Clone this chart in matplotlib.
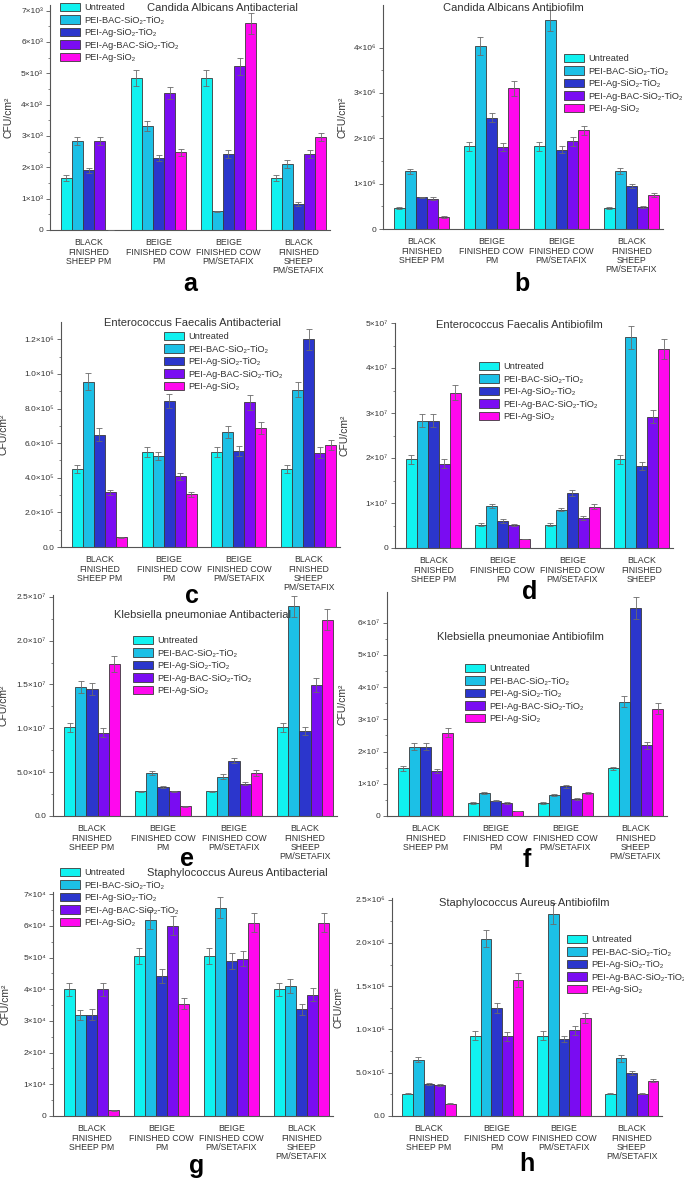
import matplotlib
matplotlib.use("Agg")
import matplotlib.pyplot as plt
import numpy as np

plt.rcParams['font.family'] = ['Liberation Sans', 'DejaVu Sans']

# ---------------- data ----------------
series = ['Untreated', 'PEI-BAC-SiO₂-TiO₂', 'PEI-Ag-SiO₂-TiO₂',
          'PEI-Ag-BAC-SiO₂-TiO₂', 'PEI-Ag-SiO₂']
colors = ['#10F2F0', '#1CC0E6', '#2B36CC', '#7A0CF2', '#FF08EE']

cats = ['BLACK\nFINISHED\nSHEEP PM', 'BEIGE\nFINISHED COW\nPM',
        'BEIGE\nFINISHED COW\nPM/SETAFIX', 'BLACK\nFINISHED\nSHEEP\nPM/SETAFIX']
cats_d = ['BLACK\nFINISHED\nSHEEP PM', 'BEIGE\nFINISHED COW\nPM',
          'BEIGE\nFINISHED COW\nPM/SETAFIX', 'BLACK\nFINISHED\nSHEEP']

titles = ['Candida Albicans Antibacterial', 'Candida Albicans Antibiofilm',
          'Enterococcus Faecalis Antibacterial', 'Enterococcus Faecalis Antibiofilm',
          'Klebsiella pneumoniae Antibacterial', 'Klebsiella pneumoniae Antibiofilm',
          'Staphylococcus Aureus Antibacterial', 'Staphylococcus Aureus Antibiofilm']
letters = ['a', 'b', 'c', 'd', 'e', 'f', 'g', 'h']

# values per series (rows = series, columns = categories)
a_vals = [[1650, 4850, 4850, 1650], [2850, 3320, 600, 2100], [1900, 2300, 2420, 830],
          [2850, 4370, 5230, 2430], [0, 2480, 6600, 2970]]
a_err = [[90, 250, 250, 90], [130, 150, 20, 120], [80, 100, 120, 50],
         [130, 200, 270, 120], [0, 120, 330, 130]]
b_vals = [[0.47e6, 1.82e6, 1.82e6, 0.47e6], [1.27e6, 4.03e6, 4.60e6, 1.28e6],
          [0.70e6, 2.45e6, 1.75e6, 0.95e6], [0.67e6, 1.80e6, 1.93e6, 0.48e6],
          [0.27e6, 3.10e6, 2.18e6, 0.75e6]]
b_err = [[0.02e6, 0.09e6, 0.09e6, 0.02e6], [0.06e6, 0.20e6, 0.23e6, 0.06e6],
         [0.01e6, 0.10e6, 0.08e6, 0.05e6], [0.03e6, 0.09e6, 0.09e6, 0.02e6],
         [0.02e6, 0.16e6, 0.10e6, 0.04e6]]
c_vals = [[4.5e5, 5.5e5, 5.5e5, 4.5e5], [9.55e5, 5.25e5, 6.65e5, 9.1e5],
          [6.5e5, 8.45e5, 5.55e5, 12.0e5], [3.15e5, 4.1e5, 8.35e5, 5.45e5],
          [0.55e5, 3.05e5, 6.9e5, 5.9e5]]
c_err = [[0.22e5, 0.3e5, 0.3e5, 0.22e5], [0.5e5, 0.25e5, 0.33e5, 0.45e5],
         [0.35e5, 0.4e5, 0.27e5, 0.6e5], [0.15e5, 0.2e5, 0.42e5, 0.3e5],
         [0.02e5, 0.15e5, 0.35e5, 0.3e5]]
d_vals = [[1.97e7, 0.52e7, 0.52e7, 1.97e7], [2.83e7, 0.93e7, 0.85e7, 4.68e7],
          [2.83e7, 0.60e7, 1.22e7, 1.83e7], [1.87e7, 0.52e7, 0.67e7, 2.92e7],
          [3.45e7, 0.20e7, 0.92e7, 4.42e7]]
d_err = [[0.1e7, 0.03e7, 0.03e7, 0.1e7], [0.14e7, 0.05e7, 0.03e7, 0.25e7],
         [0.14e7, 0.04e7, 0.06e7, 0.09e7], [0.1e7, 0.02e7, 0.04e7, 0.14e7],
         [0.17e7, 0.01e7, 0.05e7, 0.22e7]]
e_vals = [[1.01e7, 0.28e7, 0.28e7, 1.01e7], [1.47e7, 0.49e7, 0.45e7, 2.39e7],
          [1.45e7, 0.33e7, 0.63e7, 0.97e7], [0.95e7, 0.28e7, 0.37e7, 1.49e7],
          [1.73e7, 0.11e7, 0.49e7, 2.24e7]]
e_err = [[0.05e7, 0.01e7, 0.01e7, 0.05e7], [0.07e7, 0.02e7, 0.03e7, 0.12e7],
         [0.07e7, 0.01e7, 0.03e7, 0.05e7], [0.05e7, 0.01e7, 0.02e7, 0.08e7],
         [0.09e7, 0.005e7, 0.03e7, 0.12e7]]
f_vals = [[1.48e7, 0.40e7, 0.40e7, 1.48e7], [2.15e7, 0.72e7, 0.65e7, 3.55e7],
          [2.15e7, 0.47e7, 0.92e7, 6.45e7], [1.40e7, 0.40e7, 0.52e7, 2.20e7],
          [2.58e7, 0.15e7, 0.71e7, 3.33e7]]
f_err = [[0.07e7, 0.02e7, 0.02e7, 0.05e7], [0.11e7, 0.04e7, 0.03e7, 0.18e7],
         [0.11e7, 0.02e7, 0.05e7, 0.33e7], [0.07e7, 0.02e7, 0.03e7, 0.11e7],
         [0.14e7, 0.01e7, 0.03e7, 0.17e7]]
g_vals = [[4.0e4, 5.05e4, 5.05e4, 4.0e4], [3.2e4, 6.2e4, 6.58e4, 4.1e4],
          [3.2e4, 4.42e4, 4.9e4, 3.37e4], [4.0e4, 6.0e4, 4.97e4, 3.83e4],
          [0.18e4, 3.55e4, 6.1e4, 6.1e4]]
g_err = [[0.2e4, 0.25e4, 0.25e4, 0.2e4], [0.16e4, 0.3e4, 0.32e4, 0.22e4],
         [0.17e4, 0.22e4, 0.25e4, 0.17e4], [0.2e4, 0.3e4, 0.25e4, 0.2e4],
         [0.01e4, 0.18e4, 0.3e4, 0.3e4]]
h_vals = [[2.6e5, 9.3e5, 9.3e5, 2.6e5], [6.5e5, 20.5e5, 23.4e5, 6.65e5],
          [3.7e5, 12.5e5, 8.9e5, 4.95e5], [3.6e5, 9.2e5, 9.9e5, 2.6e5],
          [1.4e5, 15.7e5, 11.3e5, 4.1e5]]
h_err = [[0.05e5, 0.5e5, 0.5e5, 0.1e5], [0.3e5, 1.0e5, 1.2e5, 0.35e5],
         [0.1e5, 0.6e5, 0.4e5, 0.25e5], [0.15e5, 0.5e5, 0.5e5, 0.1e5],
         [0.05e5, 0.8e5, 0.6e5, 0.2e5]]

a_ticks = [0, 1e3, 2e3, 3e3, 4e3, 5e3, 6e3, 7e3]
a_tl = ['0', '1×10³', '2×10³', '3×10³', '4×10³', '5×10³', '6×10³', '7×10³']
b_ticks = [0, 1e6, 2e6, 3e6, 4e6]
b_tl = ['0', '1×10⁶', '2×10⁶', '3×10⁶', '4×10⁶']
c_ticks = [0, 2e5, 4e5, 6e5, 8e5, 1e6, 1.2e6]
c_tl = ['0.0', '2.0×10⁵', '4.0×10⁵', '6.0×10⁵', '8.0×10⁵', '1.0×10⁶', '1.2×10⁶']
d_ticks = [0, 1e7, 2e7, 3e7, 4e7, 5e7]
d_tl = ['0', '1×10⁷', '2×10⁷', '3×10⁷', '4×10⁷', '5×10⁷']
e_ticks = [0, 5e6, 1e7, 1.5e7, 2e7, 2.5e7]
e_tl = ['0.0', '5.0×10⁶', '1.0×10⁷', '1.5×10⁷', '2.0×10⁷', '2.5×10⁷']
f_ticks = [0, 1e7, 2e7, 3e7, 4e7, 5e7, 6e7]
f_tl = ['0', '1×10⁷', '2×10⁷', '3×10⁷', '4×10⁷', '5×10⁷', '6×10⁷']
g_ticks = [0, 1e4, 2e4, 3e4, 4e4, 5e4, 6e4, 7e4]
g_tl = ['0', '1×10⁴', '2×10⁴', '3×10⁴', '4×10⁴', '5×10⁴', '6×10⁴', '7×10⁴']
h_ticks = [0, 5e5, 1e6, 1.5e6, 2e6, 2.5e6]
h_tl = ['0.0', '5.0×10⁵', '1.0×10⁶', '1.5×10⁶', '2.0×10⁶', '2.5×10⁶']

# ---------------- layout (pixels) ----------------
W, H = 684, 1184
panels = [
    # vals, err, ticks, ticklabels, cats, ymax, (L, T, R, B), ylabel x(px), title(x,y), legend(x,y), letter(x,y)
    (a_vals, a_err, a_ticks, a_tl, cats, 7.18e3, (50, 5, 330, 230), 13, (222, 8), (60, 3), (190, 284)),
    (b_vals, b_err, b_ticks, b_tl, cats, 4.94e6, (383, 5, 663, 229), 348, (513, 8), (564, 54), (522, 284)),
    (c_vals, c_err, c_ticks, c_tl, cats, 1.30e6, (61, 322, 340, 547), 9, (192, 323), (164, 332), (192, 596)),
    (d_vals, d_err, d_ticks, d_tl, cats_d, 5.0e7, (395, 323, 673, 548), 350, (519, 325), (479, 362), (530, 592)),
    (e_vals, e_err, e_ticks, e_tl, cats, 2.52e7, (53, 595, 337, 816), 9, (202, 615), (133, 636), (187, 859)),
    (f_vals, f_err, f_ticks, f_tl, cats, 6.95e7, (387, 592, 667, 816), 348, (520, 637), (465, 664), (527, 860)),
    (g_vals, g_err, g_ticks, g_tl, cats, 7.07e4, (53, 892, 333, 1116), 11, (237, 873), (60, 868), (197, 1166)),
    (h_vals, h_err, h_ticks, h_tl, cats, 2.52e6, (392, 898, 662, 1116), 344, (524, 903), (567, 935), (527, 1164)),
]

fig = plt.figure(figsize=(W / 100, H / 100), dpi=100)

def fx(x):
    return x / W

def fy(y):
    return 1 - y / H

spine_col = '#555555'
nser = len(series)
bw = 0.158
x = np.arange(4)

for i, (vals, errs, ticks, tl, cl, ymax, (L, T, R, B), ylx, tpos, lpos, lett) in enumerate(panels):
    ax = fig.add_axes([fx(L), fy(B), (R - L) / W, (B - T) / H])
    for s in range(nser):
        xs = x + (s - 2) * bw
        ax.bar(xs, vals[s], width=bw, color=colors[s], edgecolor='#3a3a3a',
               linewidth=0.6, label=series[s], zorder=2)
        ax.errorbar(xs, vals[s], yerr=errs[s], fmt='none', ecolor='#6a6a6a',
                    elinewidth=0.6, capsize=2, capthick=0.6, zorder=3)
    ax.set_xlim(-0.55, 3.45)
    ax.set_ylim(0, ymax)
    ax.set_yticks(ticks)
    ax.set_yticklabels(tl)
    minors = [(ticks[k] + ticks[k + 1]) / 2 for k in range(len(ticks) - 1)]
    ax.set_yticks(minors, minor=True)
    ax.set_xticks(x)
    ax.set_xticklabels(cl, fontsize=6.3, color='#333333', linespacing=1.05)
    ax.tick_params(axis='x', length=0, pad=6)
    ax.tick_params(axis='y', which='major', length=3, width=0.6, labelsize=6,
                   color=spine_col, labelcolor='#333333', pad=2)
    ax.tick_params(axis='y', which='minor', length=1.8, width=0.5, color=spine_col)
    for sp in ['top', 'right']:
        ax.spines[sp].set_visible(False)
    for sp in ['left', 'bottom']:
        ax.spines[sp].set_color(spine_col)
        ax.spines[sp].set_linewidth(0.8)
    ax.set_ylabel('CFU/cm²', fontsize=7.5, color='#333333')
    ax.yaxis.set_label_coords((ylx - L) / (R - L), 0.5)
    ax.set_facecolor('none')

    fig.text(fx(tpos[0]), fy(tpos[1]), titles[i], ha='center', va='center',
             fontsize=8, color='#333333')
    leg = ax.legend(loc='upper left', bbox_to_anchor=(fx(lpos[0]), fy(lpos[1])),
                    bbox_transform=fig.transFigure, frameon=False, fontsize=6.7,
                    handlelength=2.2, handleheight=1.0, labelspacing=0.33,
                    handletextpad=0.4, borderpad=0, borderaxespad=0)
    for t in leg.get_texts():
        t.set_color('#333333')
    fig.text(fx(lett[0]), fy(lett[1]), letters[i], ha='center', va='center',
             fontsize=18, fontweight='bold', color='black')

fig.savefig('out.png', dpi=100)
